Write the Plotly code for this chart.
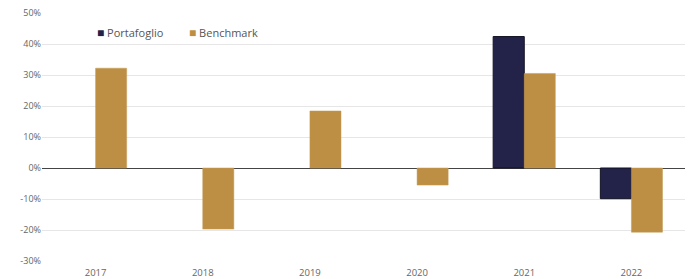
import plotly.graph_objects as go

years = ["2017", "2018", "2019", "2020", "2021", "2022"]
portafoglio = [None, None, None, None, 42.4, -9.9]
benchmark = [32.2, -19.7, 18.4, -5.5, 30.5, -20.7]
y_ticks = [-30, -20, -10, 0, 10, 20, 30, 40, 50]
y_labels = [f"{v}%" for v in y_ticks]
series_names = ["Portafoglio", "Benchmark"]
series_colors = ["#23234a", "#bd8f45"]

fig = go.Figure()
fig.add_trace(go.Bar(name=series_names[0], x=years, y=portafoglio,
                     marker=dict(color=series_colors[0], line=dict(color="#111122", width=1))))
fig.add_trace(go.Bar(name=series_names[1], x=years, y=benchmark,
                     marker=dict(color=series_colors[1], line=dict(color="#c59a52", width=0.5))))

# compact legend like the reference (small square + text)
for name, color, xpos in zip(series_names, series_colors, [0.082, 0.226]):
    fig.add_annotation(xref="paper", yref="paper", x=xpos, y=0.92,
                       xanchor="left", yanchor="middle", showarrow=False,
                       text=f"<span style='color:{color};font-size:12px'>■</span> {name}",
                       font=dict(family="Open Sans", size=11, color="#555555"))

fig.update_layout(
    width=692, height=279,
    margin=dict(l=42, r=7, t=13, b=18, autoexpand=False),
    paper_bgcolor="white", plot_bgcolor="white",
    barmode="group", bargap=0.42, bargroupgap=0,
    font=dict(family="Open Sans", color="#666666", size=9),
    showlegend=False,
)
fig.update_yaxes(range=[-30, 50], tickvals=y_ticks, ticktext=y_labels,
                 showgrid=True, gridcolor="#e6e6e6", gridwidth=1,
                 zeroline=True, zerolinecolor="#444444", zerolinewidth=1,
                 ticks="", ticklen=0, automargin=False,
                 tickfont=dict(size=9, color="#666666"))
fig.update_xaxes(showgrid=False, showline=False, ticks="", automargin=False,
                 ticklabelstandoff=4,
                 tickfont=dict(size=9.5, color="#666666"))

fig.write_html("out.html", config={"displayModeBar": False},
               post_script="document.body.style.margin='0';")
